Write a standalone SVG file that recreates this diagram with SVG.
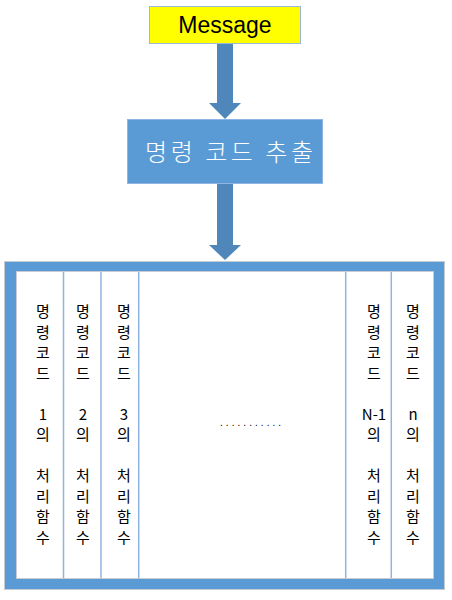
<svg xmlns="http://www.w3.org/2000/svg" width="452" height="600" viewBox="0 0 452 600">
<style>
.arrow{fill:#4F87BA;}
.col{font-family:"Noto Sans CJK KR","Noto Sans",sans-serif;font-size:15px;fill:#000;text-anchor:middle;}
.div{stroke:#8FB4E0;stroke-width:1.5;}
</style>
<rect width="452" height="600" fill="#fff"/>
<g id="connectors">
<path class="arrow" d="M217,44 H233 V103 H241 L225,119 L209,103 H217 Z"/>
<path class="arrow" d="M217,184 H233 V245 H241 L225,260 L209,245 H217 Z"/>
</g>
<g id="message">
<rect x="149.5" y="6.5" width="151" height="37" fill="#FFFF00" stroke="#9DB7D9" stroke-width="1"/>
<text x="225" y="33" font-family="Liberation Sans,Arial,sans-serif" font-size="23" text-anchor="middle" fill="#000">Message</text>
</g>
<g id="extract">
<rect x="127.5" y="119.5" width="195" height="64" fill="#5B9BD5" stroke="#8DB4E2" stroke-width="1"/>
<text x="145" y="161" font-family="Noto Sans CJK KR,sans-serif" font-size="24" font-weight="300" fill="#fff" textLength="168" lengthAdjust="spacing">명령 코드 추출</text>
</g>
<g id="handlers">
<rect x="4.5" y="261.5" width="440" height="328" fill="#5B9BD5" stroke="#C4CBD3" stroke-width="1"/>
<rect x="16.5" y="271.5" width="417" height="307" fill="#fff" stroke="#C8CCD2" stroke-width="1"/>
<line class="div" x1="63.5" y1="272" x2="63.5" y2="578"/>
<line class="div" x1="101" y1="272" x2="101" y2="578"/>
<line class="div" x1="138.7" y1="272" x2="138.7" y2="578"/>
<line class="div" x1="345.7" y1="272" x2="345.7" y2="578"/>
<line class="div" x1="391.3" y1="272" x2="391.3" y2="578"/>
</g>
<g id="handler-1">
<text class="col"><tspan x="43" y="317">명</tspan><tspan x="43" y="337.5">령</tspan><tspan x="43" y="358">코</tspan><tspan x="43" y="378.5">드</tspan><tspan x="43" y="419.5">1</tspan><tspan x="43" y="440">의</tspan><tspan x="43" y="481">처</tspan><tspan x="43" y="501.5">리</tspan><tspan x="43" y="522">함</tspan><tspan x="43" y="542.5">수</tspan></text>
</g>
<g id="handler-2">
<text class="col"><tspan x="83" y="317">명</tspan><tspan x="83" y="337.5">령</tspan><tspan x="83" y="358">코</tspan><tspan x="83" y="378.5">드</tspan><tspan x="83" y="419.5">2</tspan><tspan x="83" y="440">의</tspan><tspan x="83" y="481">처</tspan><tspan x="83" y="501.5">리</tspan><tspan x="83" y="522">함</tspan><tspan x="83" y="542.5">수</tspan></text>
</g>
<g id="handler-3">
<text class="col"><tspan x="124" y="317">명</tspan><tspan x="124" y="337.5">령</tspan><tspan x="124" y="358">코</tspan><tspan x="124" y="378.5">드</tspan><tspan x="124" y="419.5">3</tspan><tspan x="124" y="440">의</tspan><tspan x="124" y="481">처</tspan><tspan x="124" y="501.5">리</tspan><tspan x="124" y="522">함</tspan><tspan x="124" y="542.5">수</tspan></text>
</g>
<g id="ellipsis">
<text x="220" y="426" font-family="Liberation Sans,Arial,sans-serif" font-size="10" letter-spacing="3.05" fill="#000">...........</text>
</g>
<g id="handler-n-1">
<text class="col"><tspan x="374" y="317">명</tspan><tspan x="374" y="337.5">령</tspan><tspan x="374" y="358">코</tspan><tspan x="374" y="378.5">드</tspan><tspan x="374" y="419.5">N-1</tspan><tspan x="374" y="440">의</tspan><tspan x="374" y="481">처</tspan><tspan x="374" y="501.5">리</tspan><tspan x="374" y="522">함</tspan><tspan x="374" y="542.5">수</tspan></text>
</g>
<g id="handler-n">
<text class="col"><tspan x="413" y="317">명</tspan><tspan x="413" y="337.5">령</tspan><tspan x="413" y="358">코</tspan><tspan x="413" y="378.5">드</tspan><tspan x="413" y="419.5">n</tspan><tspan x="413" y="440">의</tspan><tspan x="413" y="481">처</tspan><tspan x="413" y="501.5">리</tspan><tspan x="413" y="522">함</tspan><tspan x="413" y="542.5">수</tspan></text>
</g>
</svg>
